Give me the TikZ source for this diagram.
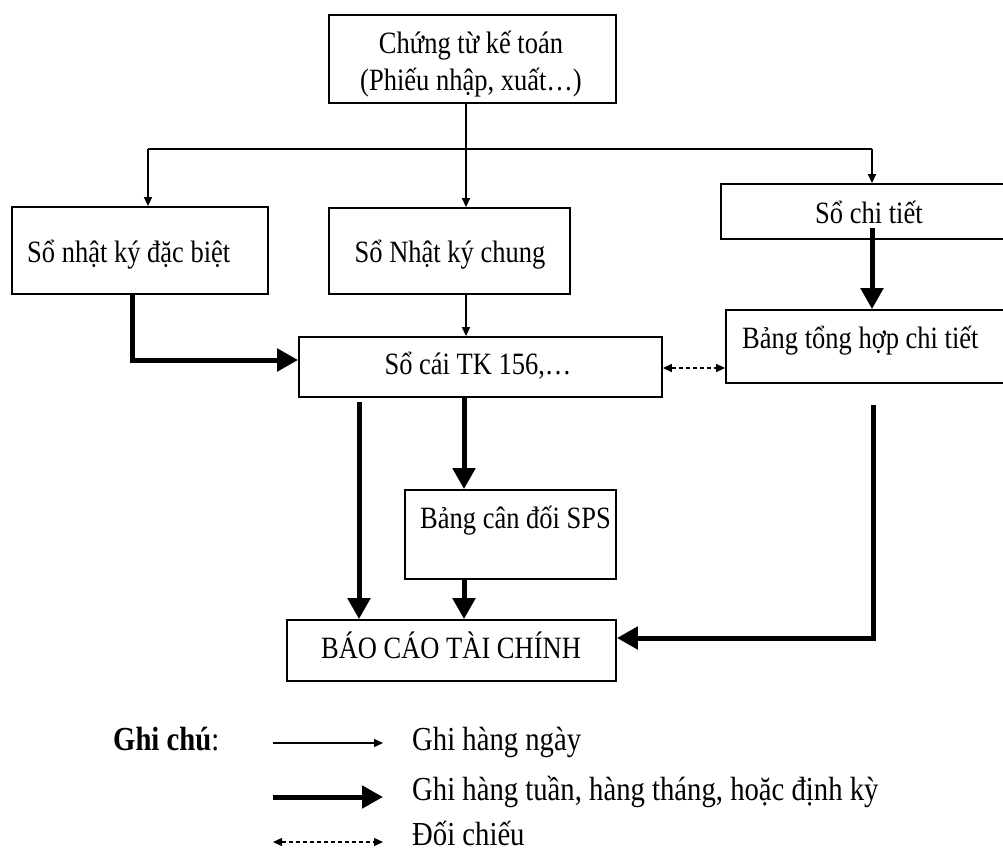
\documentclass[tikz,border=0pt]{standalone}
\usepackage{fontspec}
\usepackage{graphicx}
\setmainfont{Liberation Serif}
\usetikzlibrary{arrows.meta,calc}
% slightly tall lettering
\newcommand\tall[1]{\scalebox{1}[1.17]{#1}}
\begin{document}
\begin{tikzpicture}[x=1pt,y=-1pt,
  box/.style={draw, line width=1.8pt, inner sep=0pt},
  lbl/.style={inner sep=0pt, anchor=base west, font=\fontsize{26.5}{31}\selectfont},
  clbl/.style={lbl, anchor=base},
  keytext/.style={lbl, font=\fontsize{28.7}{33}\selectfont},
  plain/.style={line width=1.4pt},
  thinarrow/.style={line width=1.4pt, -{Triangle[length=9pt,width=8pt]}},
  thickarrow/.style={line width=5pt, -{Triangle[length=21pt,width=22pt]}},
  checkarrow/.style={line width=1.4pt, dash pattern=on 4pt off 3pt,
    {Triangle[length=9pt,width=8pt]}-{Triangle[length=9pt,width=8pt]}}
]
\useasboundingbox (0,0) rectangle (1003,852);
\clip (0,0) rectangle (1003,852);

% boxes
\node[box, minimum width=287, minimum height=88] (ctkt)  at (472.5,59)   {};
\node[box, minimum width=256, minimum height=87] (nkdb)  at (140,250.5)  {};
\node[box, minimum width=241, minimum height=86] (nkc)   at (449.5,251)  {};
\node[box, minimum width=291, minimum height=55] (sct)   at (866.5,211.5){};
\node[box, minimum width=363, minimum height=60] (sc)    at (480.5,367)  {};
\node[box, minimum width=286, minimum height=73] (bthct) at (869,346.5)  {};
\node[box, minimum width=211, minimum height=89] (bcd)   at (510.5,534.5){};
\node[box, minimum width=329, minimum height=61] (bctc)  at (451.5,650.5){};

% box texts
\node[clbl] (t1a) at (471,53) {\tall{Chứng từ kế toán}};
\node[clbl] (t1b) at (471,90) {\tall{(Phiếu nhập, xuất…)}};
\node[lbl]  (t2)  at (27,262)  {\tall{Sổ nhật ký đặc biệt}};
\node[clbl] (t3)  at (450,262) {\tall{Sổ Nhật ký chung}};
\node[lbl]  (t4)  at (815,223) {\tall{Sổ chi tiết}};
\node[clbl] (t5)  at (478,374) {\tall{Sổ cái TK 156,…}};
\node[lbl]  (t6)  at (742,348) {\tall{Bảng tổng hợp chi tiết}};
\node[lbl]  (t7)  at (420,528) {\tall{Bảng cân đối SPS}};
\node[clbl] (t8)  at (451,658) {\tall{BÁO CÁO TÀI CHÍNH}};

% daily distribution from the source documents
\coordinate (jt) at (466,149);
\coordinate (jl) at (148,149);
\coordinate (jr) at (872,149);
\draw[plain] (ctkt.south -| jt) -- (jt);
\draw[plain] (jl) -- (jr);
\draw[thinarrow] (jt) -- (nkc.north -| jt);
\draw[thinarrow] (jl) -- (nkdb.north -| jl);
\draw[thinarrow] (jr) -- (sct.north -| jr);
\draw[thinarrow] (nkc.south -| jt) -- (sc.north -| jt);

% periodic postings
\coordinate (kb) at (132,360);
\draw[thickarrow] (nkdb.south -| kb) -- (kb) -- (sc.west |- kb);
\coordinate (sd) at (872,228);
\draw[thickarrow] (sd) -- (bthct.north -| sd);
\coordinate (sa) at (359,402);
\draw[thickarrow] (sa) -- (bctc.north -| sa);
\coordinate (sb) at (464,397);
\draw[thickarrow] (sc.south -| sb) -- (bcd.north -| sb);
\draw[thickarrow] (bcd.south -| sb) -- (bctc.north -| sb);
\coordinate (ra) at (873,405);
\coordinate (rb) at (873,638);
\draw[thickarrow] (ra) -- (rb) -- (bctc.east |- rb);

% reconciliation
\coordinate (dd) at (0,368);
\draw[checkarrow] (sc.east |- dd) -- (bthct.west |- dd);

% legend
\node[keytext] (gc) at (113,750) {\tall{\textbf{Ghi chú}:}};
\coordinate (l1a) at (273,743); \coordinate (l1b) at (383,743);
\coordinate (l2a) at (273,797); \coordinate (l2b) at (383,797);
\coordinate (l3a) at (273,842); \coordinate (l3b) at (383,842);
\draw[thinarrow]  (l1a) -- (l1b);
\draw[thickarrow] (l2a) -- (l2b);
\draw[checkarrow] (l3a) -- (l3b);
\node[keytext] (g1) at (412,750) {\tall{Ghi hàng ngày}};
\node[keytext] (g2) at (412,800) {\tall{Ghi hàng tuần, hàng tháng, hoặc định kỳ}};
\node[keytext] (g3) at (412,845) {\tall{Đối chiếu}};
\end{tikzpicture}
\end{document}
